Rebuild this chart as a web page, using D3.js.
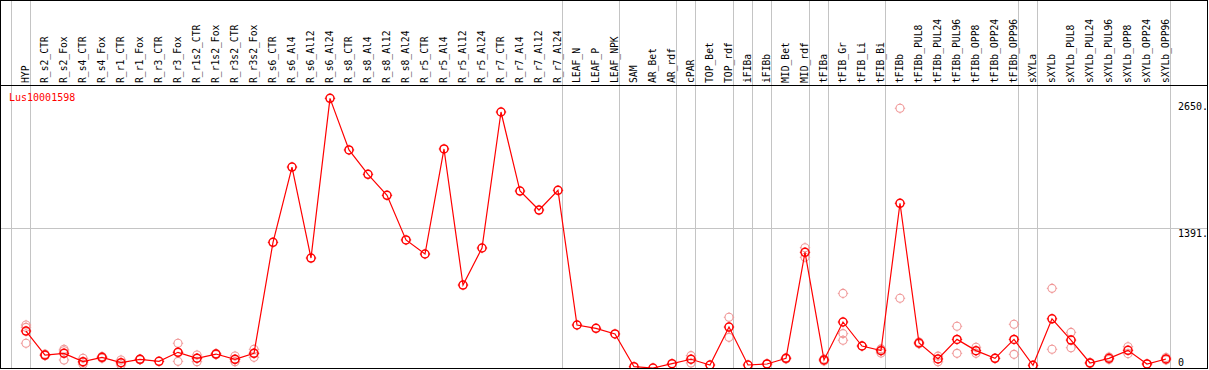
<!DOCTYPE html>
<html>
<head>
<meta charset="utf-8">
<script src="https://cdn.jsdelivr.net/npm/d3@7"></script>
<style>
  html, body { margin: 0; padding: 0; background: #fff; }
  svg { display: block; }
  text { font-family: "DejaVu Sans Mono", "Liberation Mono", monospace; font-size: 10px; }
  text.lab { font-size: 9.7px; }
</style>
</head>
<body>
<svg id="chart" width="1209" height="370"></svg>
<script>
const title = "Lus10001598";
const samples = ["HYP","R_s2_CTR","R_s2_Fox","R_s4_CTR","R_s4_Fox","R_r1_CTR","R_r1_Fox","R_r3_CTR","R_r3_Fox","R_r1s2_CTR","R_r1s2_Fox","R_r3s2_CTR","R_r3s2_Fox","R_s6_CTR","R_s6_Al4","R_s6_Al12","R_s6_Al24","R_s8_CTR","R_s8_Al4","R_s8_Al12","R_s8_Al24","R_r5_CTR","R_r5_Al4","R_r5_Al12","R_r5_Al24","R_r7_CTR","R_r7_Al4","R_r7_Al12","R_r7_Al24","LEAF_N","LEAF_P","LEAF_NPK","SAM","AR_Bet","AR_rdf","cPAR","TOP_Bet","TOP_rdf","iFIBa","iFIBb","MID_Bet","MID_rdf","tFIBa","tFIB_Gr","tFIB_Li","tFIB_Bi","tFIBb","tFIBb_PUL8","tFIBb_PUL24","tFIBb_PUL96","tFIBb_OPP8","tFIBb_OPP24","tFIBb_OPP96","sXYLa","sXYLb","sXYLb_PUL8","sXYLb_PUL24","sXYLb_PUL96","sXYLb_OPP8","sXYLb_OPP24","sXYLb_OPP96"];
const means = [368,129,146,63,106,53,86,66,156,97,139,86,146,1251,2001,1095,2685,2171,1928,1719,1275,1135,2181,826,1195,2549,1762,1573,1769,428,395,339,13,0,43,87,30,408,30,40,96,1152,80,458,219,173,1640,249,90,285,173,96,285,27,490,278,50,96,176,40,90];
const replicates = [[428,405,246],[138,124,125],[186,172,80],[97,55,37],[115,106,97],[80,50,30],[90,86,82],[],[246,156,66],[129,97,63],[145,139,133],[119,86,63],[186,146,106],[],[],[],[],[],[],[],[],[],[],[],[],[],[],[],[],[],[],[],[],[],[],[123,87,50],[],[505,305],[],[43,37],[102,90],[1198,1102],[90,70],[743,342,276],[219],[190,180,150],[2586,694],[258,240],[118,62],[415,146],[206,146],[96],[435,136],[],[793,186],[355,202],[55,45],[110,85],[212,143],[40],[105,80]];
// indices after which a group separator is drawn (-1 = before first)
const groupEnds = [-1,0,28,31,34,35,37,38,39,41,42,45,52,53,60];
const tickValues = [2650, 1391, 0];
const tickLabels = ["2650.", "1391.", "0"];
const gridValues = [1391];

const svg = d3.select("#chart");
const plotTop = 85.5, plotBottom = 368.5, right = 1207.5;

const x = d3.scalePoint().domain(samples).range([26, 1166]);
const step = x.step();
const y = d3.scaleLinear().domain([0, 2782]).range([368, 88.6]);

const g = svg.append("g");

g.selectAll("line.sep").data(groupEnds).join("line")
  .attr("class","sep")
  .attr("x1", d => Math.round(x(samples[0]) + step * d + 4) + 0.5)
  .attr("x2", d => Math.round(x(samples[0]) + step * d + 4) + 0.5)
  .attr("y1", 0).attr("y2", plotBottom)
  .attr("stroke", "#c4c4c4").attr("stroke-width", 1);

g.selectAll("line.grid").data(gridValues).join("line")
  .attr("class","grid")
  .attr("x1", 0).attr("x2", right)
  .attr("y1", d => Math.round(y(d)) + 0.5).attr("y2", d => Math.round(y(d)) + 0.5)
  .attr("stroke", "#c4c4c4").attr("stroke-width", 1);

g.append("rect").attr("x", 0.5).attr("y", 0.5).attr("width", right - 0.5).attr("height", plotBottom - 0.5)
  .attr("fill", "none").attr("stroke", "#000").attr("stroke-width", 1);
g.append("line").attr("x1", 0).attr("x2", right).attr("y1", plotTop).attr("y2", plotTop)
  .attr("stroke", "#000").attr("stroke-width", 1);

g.selectAll("text.lab").data(samples).join("text")
  .attr("class","lab")
  .attr("transform", d => `translate(${x(d)},83) rotate(-90)`)
  .attr("dy", "0.35em")
  .attr("fill", "#000")
  .text(d => d);

g.append("text").attr("x", 9).attr("y", 97).attr("dy", "0.35em").attr("fill", "#ff0000").text(title);

g.selectAll("text.tick").data(tickValues).join("text")
  .attr("class","tick")
  .attr("x", 1178)
  .attr("y", d => Math.min(y(d) + 5, 362))
  .attr("dy", "0.35em")
  .attr("fill", "#000")
  .text((d, i) => tickLabels[i]);

function marker(sel, color, sw) {
  const r = 4;
  sel.append("circle").attr("r", r).attr("fill", "none").attr("stroke", color).attr("stroke-width", sw);
  [[0,-1],[0,1],[-1,0],[1,0]].forEach(([dx,dy]) => {
    sel.append("line")
      .attr("x1", dx * r).attr("y1", dy * r)
      .attr("x2", dx * (r + 1.2)).attr("y2", dy * (r + 1.2))
      .attr("stroke", color).attr("stroke-width", 1);
  });
}

svg.append("clipPath").attr("id", "pc").append("rect")
  .attr("x", 1).attr("y", plotTop + 0.5).attr("width", right - 1.5).attr("height", plotBottom - plotTop - 1);

const pg = svg.append("g").attr("clip-path", "url(#pc)");

const repData = [];
replicates.forEach((arr, i) => arr.forEach(v => repData.push({s: samples[i], v})));
pg.selectAll("g.rep").data(repData).join("g")
  .attr("class","rep")
  .attr("transform", d => `translate(${x(d.s)},${y(d.v)})`)
  .each(function() { marker(d3.select(this), "#f09898", 1.1); });

pg.append("path")
  .datum(means)
  .attr("fill", "none").attr("stroke", "#ff0000").attr("stroke-width", 1.2)
  .attr("d", d3.line().x((d, i) => x(samples[i])).y(d => y(d)));

pg.selectAll("g.mean").data(means).join("g")
  .attr("class","mean")
  .attr("transform", (d, i) => `translate(${x(samples[i])},${y(d)})`)
  .each(function() { marker(d3.select(this), "#ff0000", 1.5); });
</script>
</body>
</html>
